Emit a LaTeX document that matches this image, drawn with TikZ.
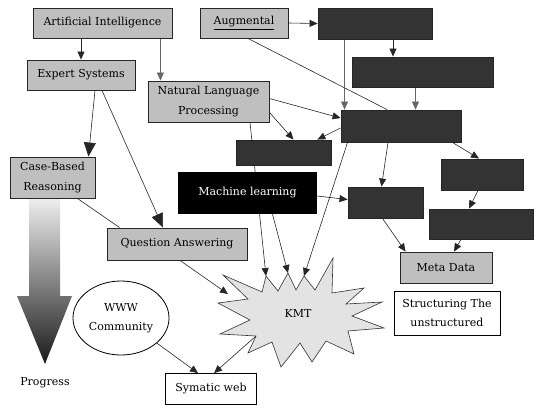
\documentclass[tikz,border=0pt]{standalone}
\usepackage{fontspec}
\setmainfont{DejaVu Serif}
\usetikzlibrary{arrows.meta,calc,shapes.geometric}
\pgfdeclarelayer{bg}
\pgfsetlayers{bg,main}
\begin{document}
\begin{tikzpicture}[x=1pt,y=-1pt,
 txt/.style={font=\fontsize{11}{19.5}\selectfont},
 lbox/.style={txt,draw=black!85,line width=0.9pt,fill=gray!50,align=center,inner sep=0pt},
 dbox/.style={draw=black!85,line width=0.9pt,fill=black!80,inner sep=0pt},
 mlbox/.style={txt,fill=black,text=white,inner sep=0pt},
 wbox/.style={txt,draw=black,line width=0.8pt,fill=white,align=center,inner sep=0pt},
 con/.style={draw=black!85,line width=0.6pt,-{Triangle[length=8pt,width=7pt]}},
 bigcon/.style={draw=black!85,line width=0.6pt,-{Triangle[length=14pt,width=12pt]}},
 link/.style={draw=black!85,line width=0.6pt},
 sz/.style n args={2}{minimum width=#1pt,minimum height=#2pt},
]
\useasboundingbox (0,0) rectangle (537,407);
% boxes
\node[lbox,sz={139}{30}] (ai) at (102.5,23) {Artificial Intelligence};
\node[lbox,sz={88}{30}] (aug) at (244,23) {\underline{Augmental}};
\node[dbox,sz={114}{31}] (d1) at (375,23.5) {};
\node[dbox,sz={141}{30}] (d2) at (422.5,72) {};
\node[lbox,sz={108}{30}] (es) at (81,75) {Expert Systems};
\node[lbox,sz={121}{41}] (nlp) at (208.5,101.5) {Natural Language\\Processing};
\node[dbox,sz={120}{32}] (d3) at (401,126) {};
\node[dbox,sz={95}{25}] (d4) at (283.5,152.5) {};
\node[lbox,sz={85}{41}] (cbr) at (52.5,177.5) {Case-Based\\Reasoning};
\node[mlbox,sz={139}{42}] (ml) at (247.5,193) {Machine learning};
\node[dbox,sz={75}{31}] (d5) at (385.5,202.5) {};
\node[dbox,sz={82}{31}] (d6) at (482,174.5) {};
\node[dbox,sz={104}{30}] (d7) at (481,224) {};
\node[lbox,sz={140}{32}] (qa) at (177,244) {Question Answering};
\node[lbox,sz={92}{31}] (meta) at (446,267.5) {Meta Data};
\node[wbox,sz={106}{44}] (st) at (447,313) {Structuring The\\unstructured};
\node[ellipse,draw,line width=0.8pt,fill=white,txt,align=center,sz={96}{74},inner sep=0pt] (www) at (121,318) {WWW\\Community};
\node[wbox,sz={91}{31}] (sym) at (211,389) {Symatic web};
\node[txt] (kmt) at (298,313) {KMT};
\node[txt] (prog) at (45,383) {Progress};
% star tips used by connectors
\coordinate (kn) at (266,276);
\coordinate (km) at (288,273);
\coordinate (kd) at (304,276);
\coordinate (kq) at (228,294);
\coordinate (ks) at (256,336);
\begin{pgfonlayer}{bg}
\shade[top color=gray!10,bottom color=black!90] (29,195) -- (60,195) -- (60,296) -- (72,296) -- (45,364) -- (17,296) -- (29,296) -- cycle;
\draw[line width=0.6pt,draw=black!80,fill=gray!22]
 (kn) -- (278,291) -- (km) -- (296,290) -- (kd) -- (315,290) -- (333,258) -- (332,293)
 -- (364,288) -- (346,304) -- (382,302) -- (352,316) -- (384,328) -- (348,331)
 -- (354,354) -- (326,341) -- (312,362) -- (300,343) -- (281,367) -- (272,342)
 -- (248,353) -- (ks) -- (220,334) -- (250,320) -- (218,303) -- (248,299)
 -- (223,275) -- (262,292) -- cycle;
\draw[con] (ai.south -| es.north) -- (es.north);
\coordinate (p1) at ($(ai.south east)+(-12,0)$);
\draw[con,draw=black!60] (p1) -- (p1 |- nlp.north);
\draw[con] (aug.east) -- (d1.west);
\draw[link] ($(aug.south)+(4,0)$) -- ($(d3.north)+(-14,0)$);
\coordinate (p2) at ($(d1.south)+(18,0)$);
\draw[con] (p2) -- (p2 |- d2.north);
\coordinate (p3) at ($(d1.south west)+(27,0)$);
\draw[con,draw=black!60] (p3) -- (p3 |- d3.north);
\coordinate (p4) at ($(d2.south)+(-7,0)$);
\draw[con,draw=black!60] (p4) -- (p4 |- d3.north);
\draw[con] ($(nlp.east)+(0,-3)$) -- ($(d3.west)+(0,-8)$);
\draw[con] ($(nlp.south east)+(0,-10)$) -- ($(d4.north)+(10,0)$);
\draw[con] ($(d3.west)+(0,2)$) -- ($(d4.north east)+(-14,0)$);
\draw[con] ($(nlp.south)+(41.5,0)$) -- (kn);
\draw[con] ($(ml.south)+(25,0)$) -- (km);
\draw[con] ($(d3.south west)+(7,0)$) -- (kd);
\draw[con] ($(qa.south)+(3,0)$) -- (kq);
\draw[link] ($(cbr.south east)+(-18,0)$) -- ($(qa.north west)+(13,0)$);
\draw[bigcon] ($(es.south)+(14,0)$) -- ($(cbr.north east)+(-7,0)$);
\draw[bigcon] ($(es.south)+(21,0)$) -- ($(qa.north)+(-14,0)$);
\draw[con] ($(ml.east)+(0,3)$) -- ($(d5.west)+(0,-3)$);
\draw[con] ($(d3.south)+(-13,0)$) -- ($(d5.north)+(-4,0)$);
\draw[con] ($(d3.south east)+(-9,0)$) -- ($(d6.north)+(-3,0)$);
\draw[con] ($(d6.south)+(-4,0)$) -- ($(d7.north)+(-12,0)$);
\draw[con] ($(d5.south)+(-3,0)$) -- ($(meta.north west)+(6,0)$);
\draw[con] ($(d7.south)+(-20,0)$) -- ($(meta.north)+(8,0)$);
\draw[con] (www.-35) -- ($(sym.north)+(-13,0)$);
\draw[con] (ks) -- ($(sym.north)+(3,0)$);
\end{pgfonlayer}
\end{tikzpicture}
\end{document}
